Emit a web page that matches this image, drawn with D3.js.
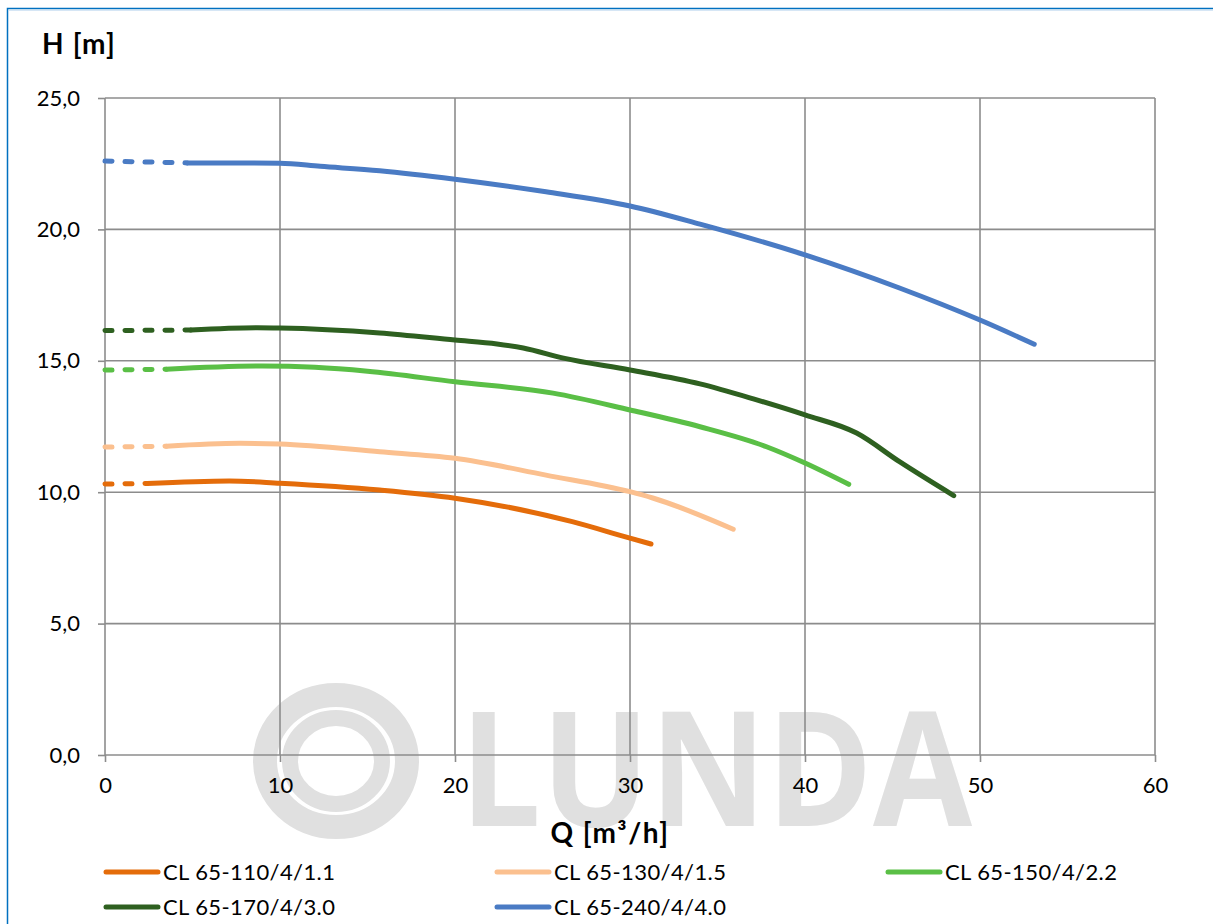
<!DOCTYPE html>
<html><head><meta charset="utf-8">
<script src="https://cdn.jsdelivr.net/npm/d3@7"></script>
<style>html,body{margin:0;padding:0;background:#fff;overflow:hidden}</style>
</head><body>
<script>
// ---- data ----
const seriesNames = ["CL 65-110/4/1.1","CL 65-130/4/1.5","CL 65-150/4/2.2","CL 65-170/4/3.0","CL 65-240/4/4.0"];
const seriesColors = ["#E46C0A","#FBC08F","#5ABF46","#2E6020","#4A7BC4"];
const q110 = [0, 2.4, 7.1, 10, 15.7, 20, 26.7, 30, 31.2];
const h110 = [10.31, 10.33, 10.43, 10.34, 10.08, 9.77, 8.88, 8.25, 8.03];
const q130 = [0, 3.5, 7.7, 10, 15.7, 20, 25.2, 30, 31.3, 35.9];
const h130 = [11.72, 11.75, 11.86, 11.83, 11.54, 11.29, 10.65, 10.02, 9.78, 8.59];
const q150 = [0, 3.5, 9, 12, 15, 20, 25.6, 30, 34, 37.8, 40, 42.5];
const h150 = [14.65, 14.68, 14.8, 14.75, 14.6, 14.2, 13.77, 13.13, 12.49, 11.73, 11.11, 10.3];
const q170 = [0, 4.9, 8.7, 10, 15.7, 20, 22.4, 23.9, 26.2, 30, 34, 37.05, 40, 42.95, 45.4, 48.5];
const h170 = [16.15, 16.17, 16.26, 16.25, 16.06, 15.79, 15.64, 15.49, 15.1, 14.65, 14.12, 13.55, 12.94, 12.25, 11.16, 9.87];
const q240 = [0, 4.7, 10, 12.3, 15.7, 20, 25.2, 30, 34, 40, 45.4, 50, 53.1];
const h240 = [22.6, 22.53, 22.52, 22.4, 22.23, 21.91, 21.43, 20.89, 20.2, 19.03, 17.77, 16.55, 15.63];
const seriesQ = [q110, q130, q150, q170, q240];
const seriesH = [h110, h130, h150, h170, h240];
const xTicks = [0, 10, 20, 30, 40, 50, 60];
const yTicks = [0, 5, 10, 15, 20, 25];
const xTitle = "Q [m³/h]";
const yTitle = "H [m]";

// ---- layout ----
const W = 1213, H = 924;
const L = 105, R = 1155, T = 98, B = 755;
const svg = d3.select("body").append("svg").attr("width", W).attr("height", H);
const font = "Lato, 'Open Sans', sans-serif";

// border
svg.append("rect").attr("x", 7.5).attr("y", 8.5).attr("width", W + 20).attr("height", H + 20)
  .attr("fill", "none").attr("stroke", "#0070C0").attr("stroke-width", 1.5);
svg.append("line").attr("x1", 9).attr("x2", W).attr("y1", 10.5).attr("y2", 10.5)
  .attr("stroke", "#d6e6f5").attr("stroke-width", 1);

// watermark
const wmCol = "#e0e0e0";
const wm = svg.append("g").attr("fill", "none").attr("stroke", wmCol);
wm.append("ellipse").attr("cx", 336).attr("cy", 761).attr("rx", 71).attr("ry", 66).attr("stroke-width", 24);
wm.append("ellipse").attr("cx", 336).attr("cy", 761).attr("rx", 46).attr("ry", 43).attr("stroke-width", 16);
svg.append("text").attr("x", 460).attr("y", 826).attr("textLength", 512).attr("lengthAdjust", "spacingAndGlyphs")
  .attr("font-family", "'Open Sans', sans-serif").attr("font-weight", 700).attr("font-size", 160)
  .attr("fill", wmCol).text("LUNDA");

const x = d3.scaleLinear().domain([0, 60]).range([L, R]);
const y = d3.scaleLinear().domain([0, 25]).range([B, T]);

const gridCol = "#8c8c8c";
svg.append("g").selectAll("line").data(xTicks).join("line")
  .attr("x1", d => x(d)).attr("x2", d => x(d)).attr("y1", T).attr("y2", B)
  .attr("stroke", gridCol).attr("stroke-width", 1.6);
svg.append("g").selectAll("line").data(yTicks).join("line")
  .attr("x1", L).attr("x2", R).attr("y1", d => y(d)).attr("y2", d => y(d))
  .attr("stroke", gridCol).attr("stroke-width", 1.6);

// axes
const xAxis = d3.axisBottom(x).tickValues(xTicks).tickSize(7).tickPadding(20).tickFormat(d3.format("d"));
const gx = svg.append("g").attr("transform", `translate(0,${B})`).call(xAxis);
const yAxis = d3.axisLeft(y).tickValues(yTicks).tickSize(7).tickPadding(18).tickFormat(d => d.toFixed(1).replace(".", ","));
const gy = svg.append("g").attr("transform", `translate(${L},0)`).call(yAxis);
[gx, gy].forEach(g => {
  g.select(".domain").remove();
  g.selectAll(".tick line").attr("stroke", gridCol).attr("stroke-width", 1.6);
  g.selectAll(".tick text").attr("font-family", font).attr("font-size", 22).attr("fill", "#000");
});
gx.selectAll(".tick text").attr("dy", "0.5em");

// titles
svg.append("text").attr("x", 42).attr("y", 54).attr("font-family", font).attr("font-weight", 700)
  .attr("font-size", 28).attr("letter-spacing", 1.2).attr("fill", "#000").text(yTitle);
svg.append("text").attr("x", 610).attr("y", 843).attr("text-anchor", "middle").attr("font-family", font)
  .attr("font-weight", 700).attr("font-size", 28).attr("letter-spacing", 1.5).attr("fill", "#000").text(xTitle);

// curves
const line = d3.line().x(d => x(d[0])).y(d => y(d[1])).curve(d3.curveMonotoneX);
seriesNames.forEach((name, i) => {
  const pts = seriesQ[i].map((q, j) => [q, seriesH[i][j]]);
  svg.append("path").datum(pts.slice(0, 2)).attr("d", line).attr("fill", "none")
    .attr("stroke", seriesColors[i]).attr("stroke-width", 5).attr("stroke-linecap", "round")
    .attr("stroke-dasharray", "7,13");
  svg.append("path").datum(pts.slice(1)).attr("d", line).attr("fill", "none")
    .attr("stroke", seriesColors[i]).attr("stroke-width", 5).attr("stroke-linecap", "round")
    .attr("stroke-linejoin", "round");
});

// legend
const legX = [104, 495, 886], legY = [872, 907];
seriesNames.forEach((name, i) => {
  const cx = legX[i % 3], cy = legY[Math.floor(i / 3)];
  svg.append("line").attr("x1", cx + 2).attr("x2", cx + 54).attr("y1", cy).attr("y2", cy)
    .attr("stroke", seriesColors[i]).attr("stroke-width", 5).attr("stroke-linecap", "round");
  svg.append("text").attr("x", cx + 59).attr("y", cy).attr("dy", "0.36em").attr("font-family", font)
    .attr("font-size", 22).attr("letter-spacing", 0.4).attr("fill", "#000").text(name);
});
</script>
</body></html>
